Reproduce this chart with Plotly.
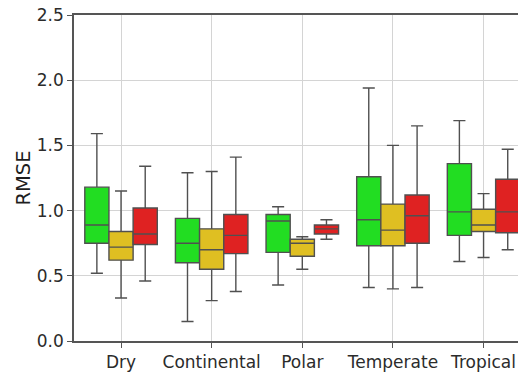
import plotly.graph_objects as go

# Climate zones on the x axis
zones = ["Dry", "Continental", "Polar", "Temperate", "Tropical"]

# Box statistics per model (lower whisker, Q1, median, Q3, upper whisker)
green_low = [0.52, 0.15, 0.43, 0.41, 0.61]
green_q1 = [0.75, 0.60, 0.68, 0.73, 0.81]
green_med = [0.89, 0.75, 0.92, 0.93, 0.99]
green_q3 = [1.18, 0.94, 0.97, 1.26, 1.36]
green_high = [1.59, 1.29, 1.03, 1.94, 1.69]

yellow_low = [0.33, 0.31, 0.55, 0.40, 0.64]
yellow_q1 = [0.62, 0.55, 0.65, 0.73, 0.84]
yellow_med = [0.72, 0.70, 0.75, 0.85, 0.89]
yellow_q3 = [0.84, 0.86, 0.78, 1.05, 1.01]
yellow_high = [1.15, 1.30, 0.80, 1.50, 1.13]

red_low = [0.46, 0.38, 0.78, 0.41, 0.70]
red_q1 = [0.74, 0.67, 0.82, 0.75, 0.83]
red_med = [0.82, 0.81, 0.86, 0.96, 0.99]
red_q3 = [1.02, 0.97, 0.89, 1.12, 1.24]
red_high = [1.34, 1.41, 0.93, 1.65, 1.47]

y_ticks = [0.0, 0.5, 1.0, 1.5, 2.0, 2.5]

series = [
    ("green", "#22dd22", green_low, green_q1, green_med, green_q3, green_high),
    ("yellow", "#dfbf22", yellow_low, yellow_q1, yellow_med, yellow_q3, yellow_high),
    ("red", "#df2222", red_low, red_q1, red_med, red_q3, red_high),
]

fig = go.Figure()
for name, color, lo, q1, med, q3, hi in series:
    fig.add_trace(go.Box(
        name=name,
        x=zones,
        lowerfence=lo,
        q1=q1,
        median=med,
        q3=q3,
        upperfence=hi,
        fillcolor=color,
        line=dict(color="#505050", width=1.4),
        whiskerwidth=0.5,
        boxpoints=False,
        showlegend=False,
    ))

tick_font = dict(family="DejaVu Sans", size=17, color="#2b2b2b")

fig.update_layout(
    width=518,
    height=372,
    margin=dict(l=74, r=0, t=15, b=27),
    paper_bgcolor="white",
    plot_bgcolor="white",
    boxmode="group",
    boxgap=0.2,
    boxgroupgap=0,
    font=tick_font,
)

fig.update_xaxes(
    type="category",
    categoryorder="array",
    categoryarray=zones,
    range=[-0.519, 4.38],
    showgrid=True,
    gridcolor="#d4d4d4",
    gridwidth=1.3,
    showline=True,
    linecolor="#555555",
    linewidth=1.5,
    mirror=True,
    ticks="outside",
    ticklen=5,
    tickcolor="#555555",
    tickfont=tick_font,
)

fig.update_yaxes(
    range=[0, 2.5],
    tickvals=y_ticks,
    tickformat=".1f",
    showgrid=True,
    gridcolor="#d4d4d4",
    gridwidth=1.3,
    zeroline=False,
    showline=True,
    linecolor="#555555",
    linewidth=1.5,
    ticks="outside",
    ticklen=5,
    tickcolor="#555555",
    tickfont=tick_font,
    title=dict(text="RMSE", font=dict(family="DejaVu Sans", size=19.5, color="#1e1e1e"), standoff=1),
)

fig.write_html("out.html")
